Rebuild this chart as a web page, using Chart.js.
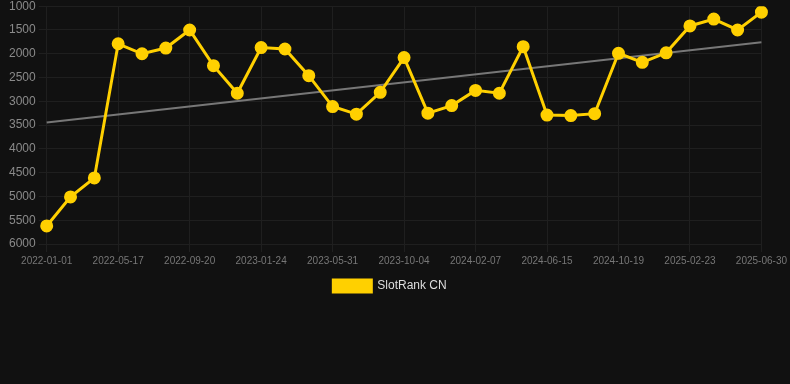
<!DOCTYPE html>
<html lang="en">
<head>
    <meta charset="UTF-8">
    <title>SlotRank CN</title>
    <style>
        html, body { margin: 0; padding: 0; background: #111111; }
        #wrap { width: 790px; height: 306px; margin-top: -4px; }
    </style>
</head>
<body>
    <div id="wrap"><canvas id="rankChart"></canvas></div>

<script src="https://cdn.jsdelivr.net/npm/chart.js"></script>
<script>
    // dates (only every third one is shown on the axis)
    const dates = [
        '2022-01-01', '2022-02-15', '2022-04-01',
        '2022-05-17', '2022-06-28', '2022-08-09',
        '2022-09-20', '2022-11-01', '2022-12-13',
        '2023-01-24', '2023-03-07', '2023-04-19',
        '2023-05-31', '2023-07-12', '2023-08-23',
        '2023-10-04', '2023-11-15', '2023-12-27',
        '2024-02-07', '2024-03-21', '2024-05-03',
        '2024-06-15', '2024-07-27', '2024-09-07',
        '2024-10-19', '2024-12-01', '2025-01-12',
        '2025-02-23', '2025-04-06', '2025-05-18',
        '2025-06-30'
    ];
    const rankCN = [
        5620, 5010, 4610,
        1790, 2000, 1880,
        1500, 2250, 2830,
        1870, 1900, 2460,
        3110, 3270, 2810,
        2080, 3250, 3090,
        2770, 2830, 1850,
        3290, 3300, 3260,
        1990, 2180, 1980,
        1415, 1270, 1500,
        1125
    ];
    // trend line: only start and end, straight line between them
    const trendStart = 3445;
    const trendEnd = 1760;
    const yTicks = [1000, 1500, 2000, 2500, 3000, 3500, 4000, 4500, 5000, 5500, 6000];

    const trend = dates.map((d, i) => i === 0 ? trendStart : (i === dates.length - 1 ? trendEnd : null));

    // legend sits a bit left of centre in the original
    const legendNudge = {
        id: 'legendNudge',
        afterLayout(chart) {
            chart.legend.left -= 7;
            chart.legend.right -= 7;
        }
    };

    new Chart(document.getElementById('rankChart'), {
        type: 'line',
        data: {
            labels: dates,
            datasets: [{
                label: 'SlotRank CN',
                data: rankCN,
                borderColor: '#ffd000',
                backgroundColor: '#ffd000',
                borderWidth: 3,
                pointRadius: 5,
                pointHoverRadius: 6,
                tension: 0,
                order: 1
            }, {
                label: 'Trend',
                data: trend,
                borderColor: '#777777',
                borderWidth: 2,
                pointRadius: 0,
                spanGaps: true,
                order: 2
            }]
        },
        plugins: [legendNudge],
        options: {
            responsive: true,
            maintainAspectRatio: false,
            animation: false,
            layout: { padding: { left: 6, right: 2 } },
            plugins: {
                legend: {
                    position: 'bottom',
                    labels: {
                        color: '#dddddd',
                        font: { family: 'Arial', size: 12 },
                        boxWidth: 38,
                        boxHeight: 12,
                        filter: item => item.text !== 'Trend'
                    }
                },
                tooltip: { enabled: false }
            },
            scales: {
                x: {
                    grid: { color: '#1f1f1f' },
                    border: { display: false },
                    ticks: {
                        color: '#777777',
                        font: { family: 'Arial', size: 10 },
                        maxRotation: 0,
                        autoSkip: false,
                        callback: function (val, i) {
                            return i % 3 === 0 ? dates[i] : null;
                        }
                    }
                },
                y: {
                    reverse: true,
                    min: yTicks[0],
                    max: yTicks[yTicks.length - 1],
                    grid: { color: '#1f1f1f' },
                    border: { display: false },
                    afterBuildTicks: axis => { axis.ticks = yTicks.map(v => ({ value: v })); },
                    ticks: {
                        color: '#8a8a8a',
                        font: { family: 'Arial', size: 12 },
                        callback: v => String(v)
                    }
                }
            }
        }
    });
</script>
</body>
</html>
